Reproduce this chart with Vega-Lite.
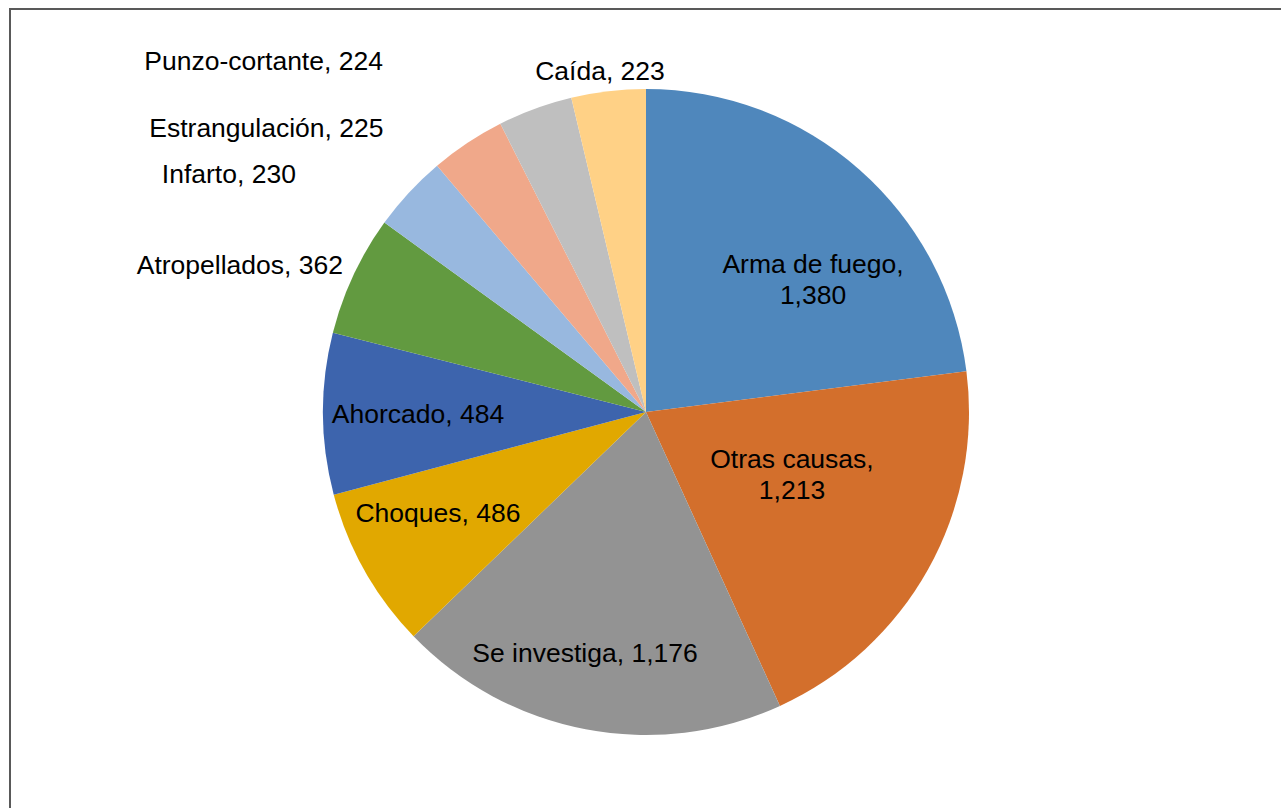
{
  "$schema": "https://vega.github.io/schema/vega-lite/v6.json",
  "width": 1280,
  "height": 808,
  "autosize": {"type": "none"},
  "padding": {"left": 10, "top": 9, "right": -9, "bottom": -9},
  "background": "white",
  "view": {"stroke": "#595959", "strokeWidth": 2, "fill": "white"},
  "config": {
    "text": {"font": "Liberation Sans", "fontSize": 26.5, "color": "black"}
  },
  "data": {
    "values": [
      {"cat": "Arma de fuego", "n": 1380, "o": 1, "label": "Arma de fuego,\n1,380"},
      {"cat": "Otras causas", "n": 1213, "o": 2, "label": "Otras causas,\n1,213"},
      {"cat": "Se investiga", "n": 1176, "o": 3, "label": "Se investiga, 1,176"},
      {"cat": "Choques", "n": 486, "o": 4, "label": "Choques, 486"},
      {"cat": "Ahorcado", "n": 484, "o": 5, "label": "Ahorcado, 484"},
      {"cat": "Atropellados", "n": 362, "o": 6, "label": "Atropellados, 362"},
      {"cat": "Infarto", "n": 230, "o": 7, "label": "Infarto, 230"},
      {"cat": "Estrangulación", "n": 225, "o": 8, "label": "Estrangulación, 225"},
      {"cat": "Punzo-cortante", "n": 224, "o": 9, "label": "Punzo-cortante, 224"},
      {"cat": "Caída", "n": 223, "o": 10, "label": "Caída, 223"}
    ]
  },
  "encoding": {
    "theta": {"field": "n", "type": "quantitative", "stack": true},
    "order": {"field": "o", "type": "quantitative"}
  },
  "layer": [
    {
      "mark": {"type": "arc", "outerRadius": 323, "xOffset": -4, "yOffset": -1},
      "encoding": {
        "color": {
          "field": "cat",
          "type": "nominal",
          "legend": null,
          "scale": {
            "domain": ["Arma de fuego", "Otras causas", "Se investiga", "Choques", "Ahorcado", "Atropellados", "Infarto", "Estrangulación", "Punzo-cortante", "Caída"],
            "range": ["#4F87BC", "#D36F2C", "#939393", "#E1A800", "#3D64AD", "#629A40", "#98B8DF", "#F0A88A", "#BFBFBF", "#FFD186"]
          }
        }
      }
    },
    {
      "mark": {"type": "text", "radius": 207, "dx": 26.2, "dy": 7.8, "align": "center", "baseline": "middle", "lineBreak": "\n", "lineHeight": 31},
      "encoding": {"detail": {"field": "cat"}, "text": {"condition": {"test": "datum.cat === 'Arma de fuego'", "field": "label"}, "value": ""}}
    },
    {
      "mark": {"type": "text", "radius": 160, "dx": 2.2, "dy": -30.9, "align": "center", "baseline": "middle", "lineBreak": "\n", "lineHeight": 31},
      "encoding": {"detail": {"field": "cat"}, "text": {"condition": {"test": "datum.cat === 'Otras causas'", "field": "label"}, "value": ""}}
    },
    {
      "mark": {"type": "text", "radius": 252, "dx": -17.9, "dy": -6.1, "align": "center", "baseline": "middle"},
      "encoding": {"detail": {"field": "cat"}, "text": {"condition": {"test": "datum.cat === 'Se investiga'", "field": "label"}, "value": ""}}
    },
    {
      "mark": {"type": "text", "radius": 232, "dx": -9.9, "dy": -12.5, "align": "center", "baseline": "middle"},
      "encoding": {"detail": {"field": "cat"}, "text": {"condition": {"test": "datum.cat === 'Choques'", "field": "label"}, "value": ""}}
    },
    {
      "mark": {"type": "text", "radius": 227, "dx": -5, "dy": 0.5, "align": "center", "baseline": "middle"},
      "encoding": {"detail": {"field": "cat"}, "text": {"condition": {"test": "datum.cat === 'Ahorcado'", "field": "label"}, "value": ""}}
    },
    {
      "mark": {"type": "text", "radius": 335, "dx": -3.5, "dy": -5.1, "align": "right", "baseline": "middle"},
      "encoding": {"detail": {"field": "cat"}, "text": {"condition": {"test": "datum.cat === 'Atropellados'", "field": "label"}, "value": ""}}
    },
    {
      "mark": {"type": "text", "radius": 416, "dx": -48.9, "dy": 44.8, "align": "right", "baseline": "middle"},
      "encoding": {"detail": {"field": "cat"}, "text": {"condition": {"test": "datum.cat === 'Infarto'", "field": "label"}, "value": ""}}
    },
    {
      "mark": {"type": "text", "radius": 379, "dx": -57, "dy": 31.9, "align": "right", "baseline": "middle"},
      "encoding": {"detail": {"field": "cat"}, "text": {"condition": {"test": "datum.cat === 'Estrangulación'", "field": "label"}, "value": ""}}
    },
    {
      "mark": {"type": "text", "radius": 416, "dx": -124.2, "dy": 39.7, "align": "right", "baseline": "middle"},
      "encoding": {"detail": {"field": "cat"}, "text": {"condition": {"test": "datum.cat === 'Punzo-cortante'", "field": "label"}, "value": ""}}
    },
    {
      "mark": {"type": "text", "radius": 340, "dx": -10.4, "dy": -3.3, "align": "center", "baseline": "middle"},
      "encoding": {"detail": {"field": "cat"}, "text": {"condition": {"test": "datum.cat === 'Caída'", "field": "label"}, "value": ""}}
    }
  ]
}
